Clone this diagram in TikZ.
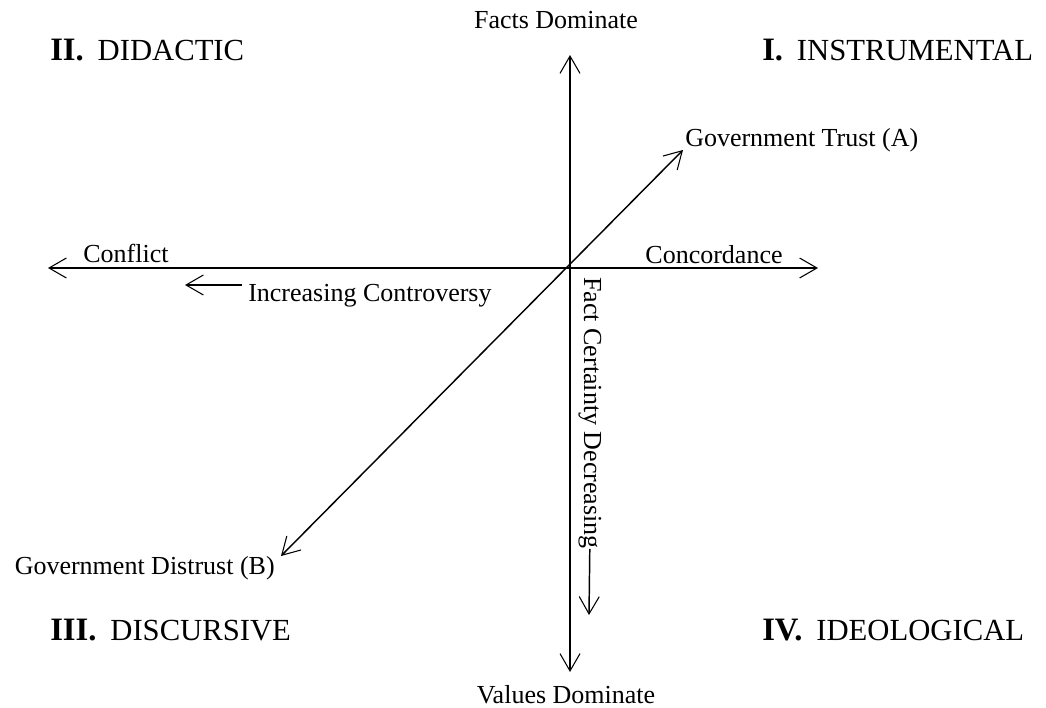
\documentclass[tikz,border=0pt]{standalone}
\usepackage{fontspec}
\setmainfont{Liberation Serif}
\usetikzlibrary{arrows.meta}
\tikzset{
	barb/.tip={Straight Barb[length=13pt, width=15pt, line width=0.8pt]},
	twoway/.style={line width=1.1pt, barb-barb},
	oneway/.style={line width=1.1pt, -barb},
	smalltext/.style={font=\fontsize{19.5}{22}\selectfont, inner sep=0pt},
	quadtext/.style={font=\fontsize{23}{27}\selectfont, inner sep=0pt, anchor=base west}
}
\newcommand{\quadname}[2]{{\fontsize{24.5}{27}\selectfont\textbf{#1}}\hspace{0.45em}#2}

\begin{document}
\begin{tikzpicture}[x=0.75pt, y=-0.75pt]
	\useasboundingbox (0,0) rectangle (1046,707);
	% axes
	\coordinate (O) at (570,268);
	\coordinate (W) at (48,268);
	\coordinate (E) at (818,268);
	\coordinate (N) at (570,55);
	\coordinate (S) at (570,672);
	\coordinate (A) at (683,150);
	\coordinate (B) at (281,556);
	\draw[twoway, line width=1.7pt] (W) -- (E);
	\draw[twoway] (N) -- (S);
	\draw[twoway] (B) -- (A);
	% axis labels
	\node[smalltext, anchor=base] (facts) at (556,28) {Facts Dominate};
	\node[smalltext, anchor=base] (values) at (566,703) {Values Dominate};
	\node[smalltext, anchor=base] (conflict) at (126,262) {Conflict};
	\node[smalltext, anchor=base] (concord) at (714,263) {Concordance};
	\node[smalltext, anchor=base west] (trust) at (685,146) {Government Trust (A)};
	\node[smalltext, anchor=base east] (distrust) at (275,574) {Government Distrust (B)};
	% trends
	\node[smalltext, anchor=base west] (controv) at (248,301) {Increasing Controversy};
	\coordinate (ctail) at (242,285);
	\coordinate (ctip) at (185,285);
	\draw[oneway] (ctail) -- (ctip);
	\node[smalltext, rotate=-90, anchor=base west] (certain) at (584,277) {Fact Certainty Decreasing};
	\coordinate (fctip) at (589,615);
	\draw[oneway] (certain.east) -- (fctip);
	% quadrants
	\node[quadtext] (quadII) at (50,60) {\quadname{II.}{DIDACTIC}};
	\node[quadtext] (quadI) at (762,60) {\quadname{I.}{INSTRUMENTAL}};
	\node[quadtext] (quadIII) at (50,640) {\quadname{III.}{DISCURSIVE}};
	\node[quadtext] (quadIV) at (762,640) {\quadname{IV.}{IDEOLOGICAL}};
\end{tikzpicture}
\end{document}
